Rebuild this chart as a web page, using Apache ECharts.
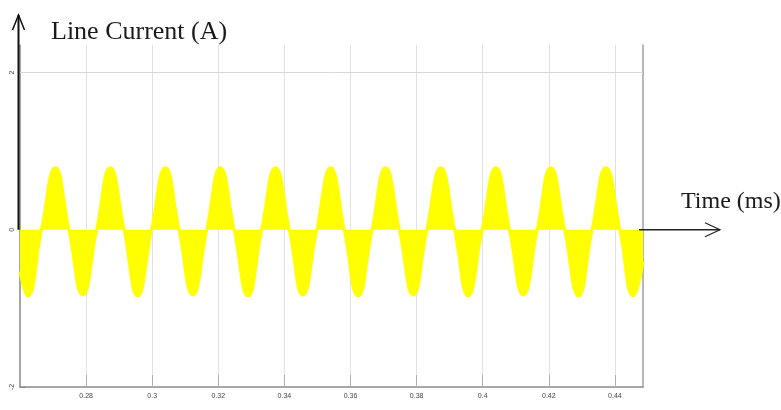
<!DOCTYPE html>
<html>
<head>
<meta charset="utf-8">
<script src="https://cdn.jsdelivr.net/npm/echarts@6/dist/echarts.min.js"></script>
<style>
html,body{margin:0;padding:0;background:#fff;}
#chart{width:781px;height:410px;}
</style>
</head>
<body>
<div id="chart"></div>
<script>
// Time (ms) sample points: zero crossings and extremes
const timeMs = [
  0.2600, 0.2623, 0.2665, 0.2707, 0.2748, 0.2790, 0.2832, 0.2873, 0.2915, 0.2956,
  0.2998, 0.3040, 0.3081, 0.3123, 0.3165, 0.3206, 0.3248, 0.3290, 0.3331, 0.3373,
  0.3415, 0.3456, 0.3498, 0.3540, 0.3581, 0.3623, 0.3665, 0.3706, 0.3748, 0.3790,
  0.3831, 0.3873, 0.3915, 0.3956, 0.3998, 0.4040, 0.4081, 0.4123, 0.4165, 0.4206,
  0.4248, 0.4290, 0.4331, 0.4373, 0.4415, 0.4456, 0.4485
];
// Line current (A) read at those times
const lineCurrent = [
  -0.53, -0.84, 0, 0.79, 0, -0.83, 0, 0.79, 0, -0.84,
  0, 0.79, 0, -0.83, 0, 0.79, 0, -0.84, 0, 0.79,
  0, -0.83, 0, 0.79, 0, -0.84, 0, 0.79, 0, -0.83,
  0, 0.79, 0, -0.84, 0, 0.79, 0, -0.83, 0, 0.79,
  0, -0.84, 0, 0.79, 0, -0.84, -0.40
];
const xTickValues = [0.28, 0.30, 0.32, 0.34, 0.36, 0.38, 0.40, 0.42, 0.44];
const xTickLabels = ['0.28', '0.3', '0.32', '0.34', '0.36', '0.38', '0.4', '0.42', '0.44'];
const yTickValues = [-2, 0, 2];
const yTickLabels = ['-2', '0', '2'];
const yTitle = 'Line Current (A)';
const xTitle = 'Time (ms)';

const chart = echarts.init(document.getElementById('chart'), null, {renderer: 'canvas'});
const data = timeMs.map((t, i) => [t, lineCurrent[i]]);
const serif = '"Liberation Serif", "DejaVu Serif", serif';

function labelFor(values, labels, v) {
  for (let i = 0; i < values.length; i++) {
    if (Math.abs(values[i] - v) < 1e-6) return labels[i];
  }
  return '';
}

chart.setOption({
  animation: false,
  backgroundColor: '#ffffff',
  title: [
    {text: yTitle, left: 46, top: 14, textStyle: {fontFamily: serif, fontSize: 26, fontWeight: 'normal', color: '#1a1a1a'}},
    {text: xTitle, left: 676, top: 185, textStyle: {fontFamily: serif, fontSize: 24, fontWeight: 'normal', color: '#1a1a1a'}}
  ],
  grid: {left: 20, right: 138, top: 45, bottom: 23},
  xAxis: {
    type: 'value', min: 0.26, max: 0.4485, interval: 0.02,
    axisLine: {show: true, onZero: false, lineStyle: {color: '#8a8a8a', width: 1.5}},
    axisTick: {show: true, inside: true, length: 12, customValues: xTickValues, lineStyle: {color: '#b0b0b0'}},
    axisLabel: {fontSize: 7, color: '#444', margin: 6, customValues: xTickValues,
      formatter: v => labelFor(xTickValues, xTickLabels, v)},
    splitLine: {show: true, lineStyle: {color: '#e2e2e2', width: 1}}
  },
  yAxis: [
    {
      type: 'value', min: -2, max: 2.35, interval: 2,
      axisLine: {show: true, lineStyle: {color: '#8a8a8a', width: 1.5}},
      axisTick: {show: true, inside: true, length: 6, customValues: yTickValues, lineStyle: {color: '#888'}},
      axisLabel: {fontSize: 7, color: '#444', margin: 4, rotate: 90, customValues: yTickValues,
        formatter: v => labelFor(yTickValues, yTickLabels, v)},
      splitLine: {show: false}
    },
    {
      type: 'value', min: -2, max: 2.35, position: 'right',
      axisLine: {show: true, lineStyle: {color: '#a0a0a0', width: 1.5}},
      axisTick: {show: false}, axisLabel: {show: false}, splitLine: {show: false}
    }
  ],
  series: [{
    type: 'line',
    data: data,
    smooth: true,
    showSymbol: false,
    lineStyle: {color: '#ffff00', width: 3},
    itemStyle: {color: '#ffff00'},
    areaStyle: {color: '#ffff00', opacity: 1},
    markLine: {
      silent: true, symbol: 'none', label: {show: false},
      lineStyle: {color: '#d8d8d8', type: 'solid', width: 1},
      data: [{yAxis: 2}]
    },
    z: 3
  }]
});

const pZero = chart.convertToPixel({gridIndex: 0}, [0.26, 0]);
const pRight = chart.convertToPixel({gridIndex: 0}, [0.4485, 0]);
const ax = pZero[0] - 1.5;
const ay = pZero[1];
chart.setOption({
  graphic: [
    {type: 'line', shape: {x1: ax, y1: ay, x2: ax, y2: 15}, style: {stroke: '#111', lineWidth: 2}, z: 10},
    {type: 'polyline', shape: {points: [[ax - 6, 30], [ax, 15], [ax + 6, 30]]}, style: {stroke: '#111', lineWidth: 1.5, fill: null}, z: 10},
    {type: 'line', shape: {x1: pRight[0] - 4, y1: ay, x2: 720, y2: ay}, style: {stroke: '#222', lineWidth: 1.5}, z: 10},
    {type: 'polyline', shape: {points: [[705, ay - 7], [720, ay], [705, ay + 7]]}, style: {stroke: '#222', lineWidth: 1.2, fill: null}, z: 10}
  ]
});
</script>
</body>
</html>
